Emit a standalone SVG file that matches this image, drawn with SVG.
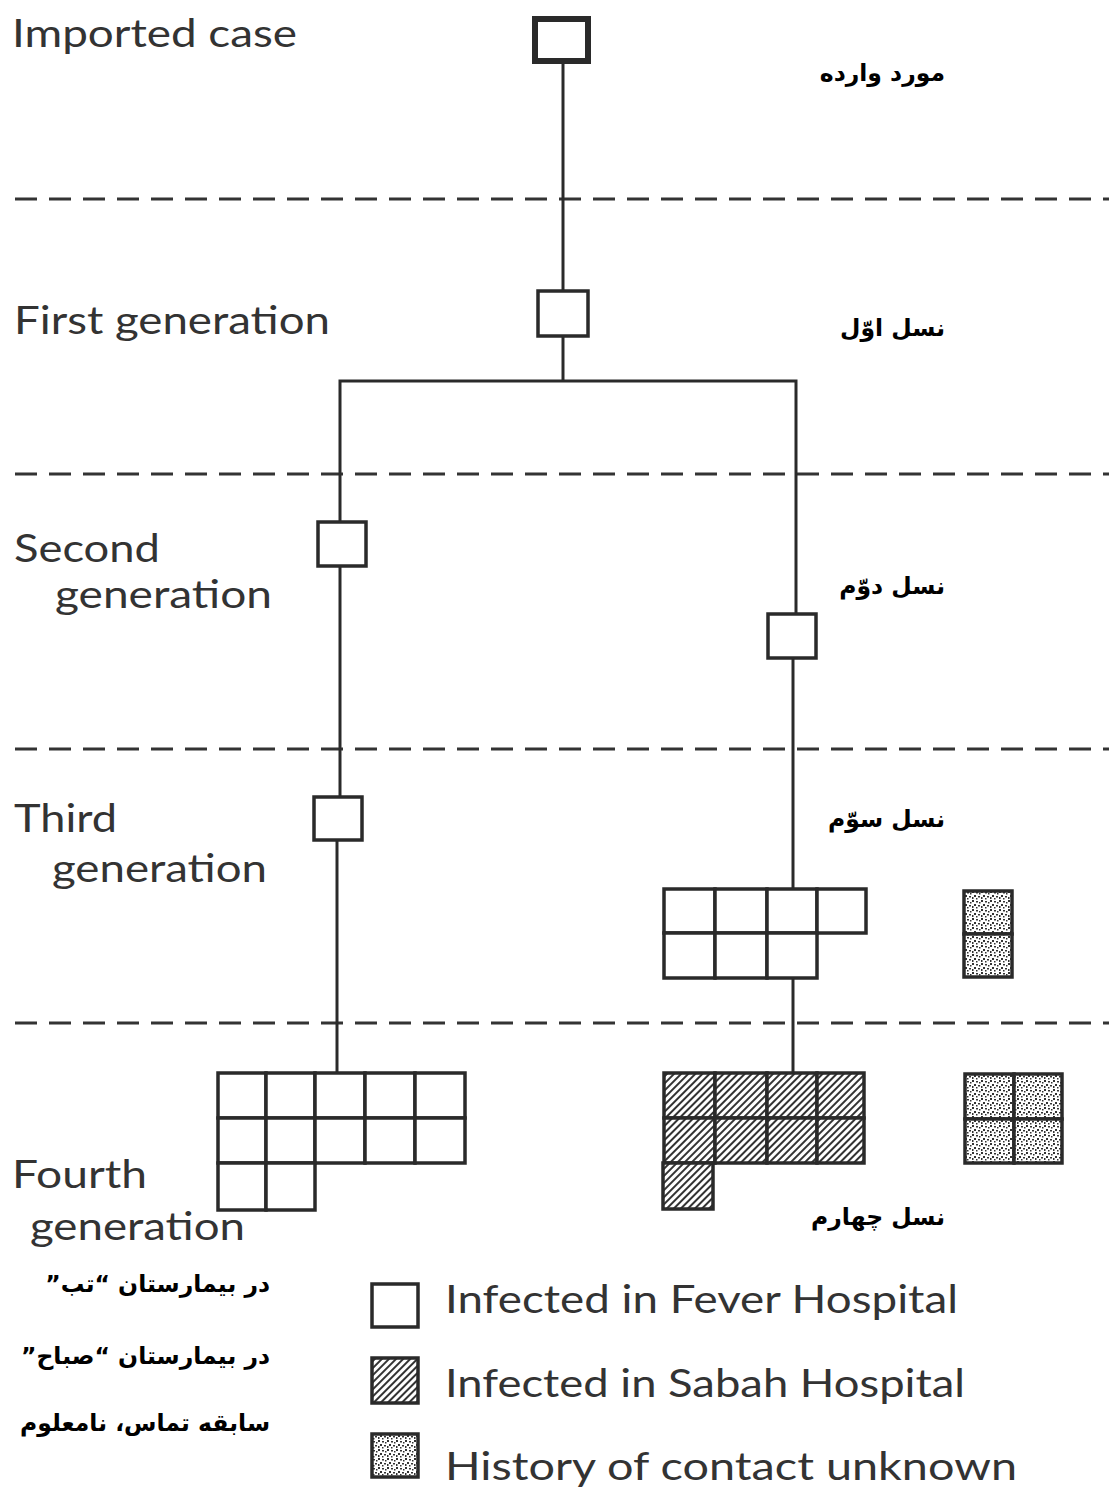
<svg xmlns="http://www.w3.org/2000/svg" width="1109" height="1488" viewBox="0 0 1109 1488">
<style>
.en{font-family:Lato,"Open Sans","Liberation Sans",sans-serif;font-size:39px;fill:#333;}
.fa{font-family:"DejaVu Sans","Noto Sans",sans-serif;font-weight:bold;font-size:23.5px;fill:#000;}
.cell{fill:#fff;stroke:#2a2a2a;stroke-width:3.5;}
.hat{fill:url(#hatch);stroke:#2a2a2a;stroke-width:3.5;}
.dot{fill:url(#stip);stroke:#2a2a2a;stroke-width:3.5;}
.box{fill:#fff;stroke:#2a2a2a;stroke-width:3.5;}
.conn{stroke:#2a2a2a;stroke-width:3;fill:none;}
.dash{stroke:#333;stroke-width:3;stroke-dasharray:22 12;fill:none;}
</style>
<defs>
<pattern id="hatch" patternUnits="userSpaceOnUse" width="5" height="5" patternTransform="rotate(45)">
<rect width="5" height="5" fill="#fff"/>
<line x1="1" y1="0" x2="1" y2="5" stroke="#333" stroke-width="2"/>
</pattern>
<pattern id="stip" patternUnits="userSpaceOnUse" width="9" height="9">
<rect width="9" height="9" fill="#fff"/>
<rect x="0" y="0" width="2" height="2" fill="#333"/>
<rect x="4" y="1" width="2" height="1.5" fill="#333"/>
<rect x="2" y="4" width="2" height="2" fill="#333"/>
<rect x="6" y="5" width="2" height="1.5" fill="#333"/>
<rect x="7" y="2" width="1.5" height="1.5" fill="#333"/>
<rect x="4" y="7" width="1.5" height="1.5" fill="#333"/>
<rect x="0" y="6" width="1.5" height="2" fill="#333"/>
</pattern>
</defs>
<rect width="1109" height="1488" fill="#fff"/>

<g id="dividers">
<line class="dash" x1="15" y1="199" x2="1109" y2="199"/>
<line class="dash" x1="15" y1="474" x2="1109" y2="474"/>
<line class="dash" x1="15" y1="749" x2="1109" y2="749"/>
<line class="dash" x1="15" y1="1023" x2="1109" y2="1023"/>
</g>

<g id="labels-en">
<text class="en" x="12" y="47" textLength="285" lengthAdjust="spacingAndGlyphs">Imported case</text>
<text class="en" x="14" y="334" textLength="316" lengthAdjust="spacingAndGlyphs">First generation</text>
<text class="en" x="14" y="562" textLength="146" lengthAdjust="spacingAndGlyphs">Second</text>
<text class="en" x="55" y="608" textLength="217" lengthAdjust="spacingAndGlyphs">generation</text>
<text class="en" x="14" y="832" textLength="103" lengthAdjust="spacingAndGlyphs">Third</text>
<text class="en" x="52" y="882" textLength="215" lengthAdjust="spacingAndGlyphs">generation</text>
<text class="en" x="12" y="1188" textLength="135" lengthAdjust="spacingAndGlyphs">Fourth</text>
<text class="en" x="30" y="1240" textLength="215" lengthAdjust="spacingAndGlyphs">generation</text>
</g>

<g id="labels-fa">
<text class="fa" x="945" y="81" direction="rtl" text-anchor="start">مورد وارده</text>
<text class="fa" x="945" y="336" direction="rtl" text-anchor="start">نسل اوّل</text>
<text class="fa" x="945" y="594" direction="rtl" text-anchor="start">نسل دوّم</text>
<text class="fa" x="945" y="827" direction="rtl" text-anchor="start">نسل سوّم</text>
<text class="fa" x="945" y="1225" direction="rtl" text-anchor="start">نسل چهارم</text>
<text class="fa" x="270" y="1292" direction="rtl" text-anchor="start">در بیمارستان “تب”</text>
<text class="fa" x="270" y="1364" direction="rtl" text-anchor="start">در بیمارستان “صباح”</text>
<text class="fa" x="270" y="1431" direction="rtl" text-anchor="start">سابقه تماس، نامعلوم</text>
</g>

<g id="connectors">
<line class="conn" x1="563" y1="62" x2="563" y2="291"/>
<line class="conn" x1="563" y1="336" x2="563" y2="381"/>
<polyline class="conn" points="340,521 340,381 796,381 796,613"/>
<line class="conn" x1="340" y1="566" x2="340" y2="796"/>
<line class="conn" x1="337" y1="840" x2="337" y2="1072"/>
<line class="conn" x1="793" y1="658" x2="793" y2="888"/>
<line class="conn" x1="793" y1="978" x2="793" y2="1072"/>
</g>

<g id="imported-case">
<rect x="535" y="19" width="53" height="42" fill="#fff" stroke="#2a2a2a" stroke-width="6"/>
</g>
<g id="first-gen">
<rect class="box" x="538" y="291" width="50" height="45"/>
</g>
<g id="second-gen-left">
<rect class="box" x="318" y="522" width="48" height="44"/>
</g>
<g id="second-gen-right">
<rect class="box" x="768" y="614" width="48" height="44"/>
</g>
<g id="third-gen-left">
<rect class="box" x="314" y="797" width="48" height="43"/>
</g>

<g id="third-gen-right">
<rect class="cell" x="664" y="889" width="51" height="44"/>
<rect class="cell" x="715" y="889" width="52" height="44"/>
<rect class="cell" x="767" y="889" width="50" height="44"/>
<rect class="cell" x="817" y="889" width="49" height="44"/>
<rect class="cell" x="664" y="933" width="51" height="45"/>
<rect class="cell" x="715" y="933" width="52" height="45"/>
<rect class="cell" x="767" y="933" width="50" height="45"/>
</g>
<g id="third-gen-unknown">
<rect class="dot" x="964" y="891" width="48" height="43"/>
<rect class="dot" x="964" y="934" width="48" height="43"/>
</g>

<g id="fourth-gen-fever">
<rect class="cell" x="218" y="1073" width="48" height="45"/>
<rect class="cell" x="266" y="1073" width="49" height="45"/>
<rect class="cell" x="315" y="1073" width="50" height="45"/>
<rect class="cell" x="365" y="1073" width="50" height="45"/>
<rect class="cell" x="415" y="1073" width="50" height="45"/>
<rect class="cell" x="218" y="1118" width="48" height="45"/>
<rect class="cell" x="266" y="1118" width="49" height="45"/>
<rect class="cell" x="315" y="1118" width="50" height="45"/>
<rect class="cell" x="365" y="1118" width="50" height="45"/>
<rect class="cell" x="415" y="1118" width="50" height="45"/>
<rect class="cell" x="218" y="1163" width="48" height="47"/>
<rect class="cell" x="266" y="1163" width="49" height="47"/>
</g>

<g id="fourth-gen-sabah">
<rect class="hat" x="664" y="1073" width="51" height="45"/>
<rect class="hat" x="715" y="1073" width="52" height="45"/>
<rect class="hat" x="767" y="1073" width="50" height="45"/>
<rect class="hat" x="817" y="1073" width="47" height="45"/>
<rect class="hat" x="664" y="1118" width="51" height="45"/>
<rect class="hat" x="715" y="1118" width="52" height="45"/>
<rect class="hat" x="767" y="1118" width="50" height="45"/>
<rect class="hat" x="817" y="1118" width="47" height="45"/>
<rect class="hat" x="663" y="1163" width="50" height="46"/>
</g>

<g id="fourth-gen-unknown">
<rect class="dot" x="965" y="1074" width="49" height="45"/>
<rect class="dot" x="1014" y="1074" width="48" height="45"/>
<rect class="dot" x="965" y="1119" width="49" height="44"/>
<rect class="dot" x="1014" y="1119" width="48" height="44"/>
</g>

<g id="legend">
<rect class="box" x="372" y="1284" width="46" height="43"/>
<text class="en" x="445" y="1313" font-size="41" textLength="513" lengthAdjust="spacingAndGlyphs">Infected in Fever Hospital</text>
<rect class="hat" x="372" y="1358" width="46" height="45"/>
<text class="en" x="445" y="1397" font-size="41" textLength="520" lengthAdjust="spacingAndGlyphs">Infected in Sabah Hospital</text>
<rect class="dot" x="372" y="1434" width="46" height="43"/>
<text class="en" x="445" y="1480" font-size="41" textLength="572" lengthAdjust="spacingAndGlyphs">History of contact unknown</text>
</g>
</svg>
